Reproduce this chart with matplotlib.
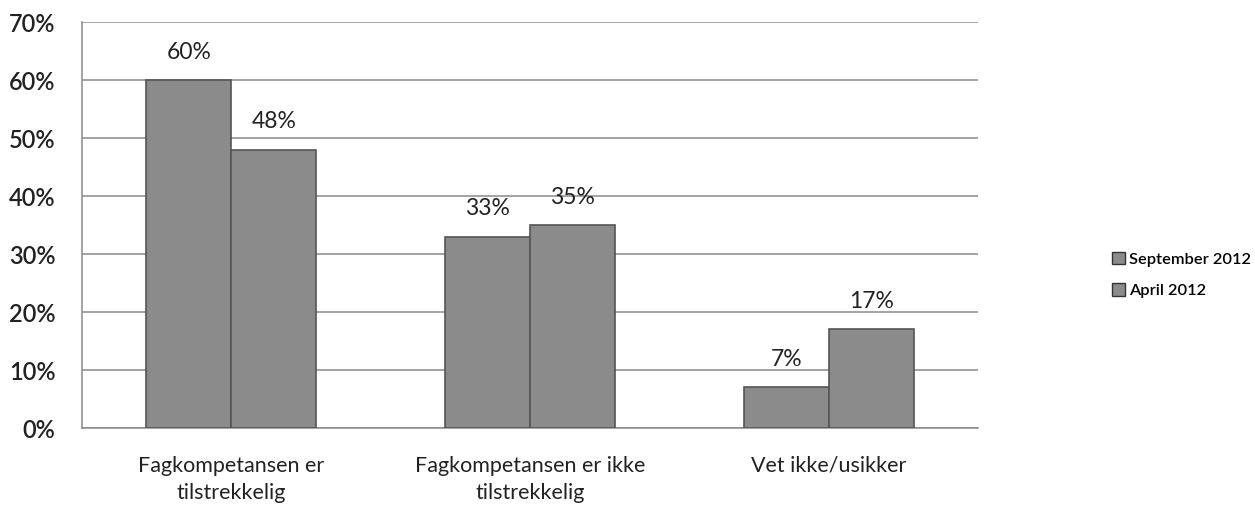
import numpy as np
import matplotlib.pyplot as plt
from matplotlib.patches import Patch

categories = ["Fagkompetansen er\ntilstrekkelig", "Fagkompetansen er ikke\ntilstrekkelig", "Vet ikke/usikker"]
series_names = ["September 2012", "April 2012"]
sept_2012 = [60, 33, 7]
april_2012 = [48, 35, 17]
yticks = [0, 10, 20, 30, 40, 50, 60, 70]

plt.rcParams['font.family'] = ['Lato', 'DejaVu Sans']

fig = plt.figure(figsize=(12.55, 5.07), dpi=100)
ax = fig.add_axes([82/1255, 79/507, 896/1255, 406/507])

x = np.arange(len(categories))
w = 0.285
bar_kw = dict(width=w, color='#8b8b8b', edgecolor='#555555', linewidth=1.2, zorder=3)
b1 = ax.bar(x - w/2, sept_2012, **bar_kw)
b2 = ax.bar(x + w/2, april_2012, **bar_kw)

for bars, vals in ((b1, sept_2012), (b2, april_2012)):
    for b, v in zip(bars, vals):
        ax.text(b.get_x() + b.get_width()/2, v + 4.8, f"{v}%", ha='center', va='center',
                fontsize=16.5, color='#222222', zorder=4)

ax.set_xlim(-0.5, 2.5)
ax.set_ylim(0, 70)
ax.set_yticks(yticks)
ax.set_yticklabels([f"{t}%" for t in yticks], fontsize=17, fontweight='semibold', color='#222222')
ax.yaxis.grid(True, color='#8a8a8a', linewidth=1.1, zorder=0)
ax.tick_params(axis='y', length=0, pad=19)
ax.tick_params(axis='x', length=0, pad=20)
ax.set_xticks(x)
ax.set_xticklabels(categories, fontsize=15.5, color='#222222', linespacing=1.45, va='top')
for s in ('top', 'right'):
    ax.spines[s].set_visible(False)
ax.spines['left'].set_color('#8a8a8a')
ax.spines['bottom'].set_color('#8a8a8a')
ax.spines['left'].set_linewidth(1.1)
ax.spines['bottom'].set_linewidth(1.1)

handles = [Patch(facecolor='#8b8b8b', edgecolor='#333333', label=n) for n in series_names]
fig.legend(handles=handles, loc='center left', bbox_to_anchor=(1097/1255, 1 - 275/507),
           frameon=False, handlelength=0.8, handleheight=0.8,
           handletextpad=0.25, labelspacing=1.0, prop={'weight': 'semibold', 'size': 11.8})

fig.savefig("out.png", dpi=100)
